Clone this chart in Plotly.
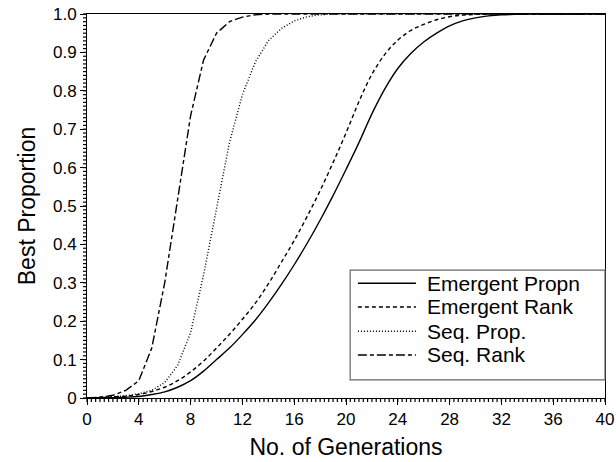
import plotly.graph_objects as go

# Generations 0..40
generations = list(range(0, 41))

emergent_propn = [0, 0.0005, 0.001, 0.002, 0.004, 0.009, 0.016, 0.028, 0.045, 0.07,
                  0.10, 0.13, 0.165, 0.203, 0.247, 0.295, 0.347, 0.403, 0.463, 0.527,
                  0.595, 0.665, 0.74, 0.805, 0.858, 0.897, 0.927, 0.95, 0.969, 0.982,
                  0.99, 0.995, 0.998, 0.999, 1, 1, 1, 1, 1, 1, 1]
emergent_rank = [0, 0.001, 0.003, 0.005, 0.009, 0.017, 0.028, 0.045, 0.068, 0.096,
                 0.13, 0.166, 0.205, 0.247, 0.297, 0.353, 0.41, 0.473, 0.54, 0.613,
                 0.69, 0.772, 0.843, 0.895, 0.932, 0.957, 0.973, 0.985, 0.993, 0.997,
                 0.999, 1, 1, 1, 1, 1, 1, 1, 1, 1, 1]
seq_prop = [0, 0.001, 0.003, 0.006, 0.011, 0.02, 0.04, 0.085, 0.17, 0.32,
            0.49, 0.665, 0.79, 0.875, 0.93, 0.962, 0.982, 0.993, 0.998, 1,
            1, 1, 1, 1, 1, 1, 1, 1, 1, 1, 1, 1, 1, 1, 1, 1, 1, 1, 1, 1, 1]
seq_rank = [0, 0.002, 0.007, 0.02, 0.045, 0.13, 0.30, 0.52, 0.735, 0.88,
            0.95, 0.98, 0.992, 0.998, 1, 1, 1, 1, 1, 1, 1, 1, 1, 1, 1, 1,
            1, 1, 1, 1, 1, 1, 1, 1, 1, 1, 1, 1, 1, 1, 1]

series_names = ["Emergent Propn", "Emergent Rank", "Seq. Prop.", "Seq. Rank"]

x_range = [0, 40]
y_range = [0, 1.0]
x_tick_vals = [0, 4, 8, 12, 16, 20, 24, 28, 32, 36, 40]
y_tick_vals = [0, 0.1, 0.2, 0.3, 0.4, 0.5, 0.6, 0.7, 0.8, 0.9, 1.0]
y_tick_text = ["0", "0.1", "0.2", "0.3", "0.4", "0.5", "0.6", "0.7", "0.8", "0.9", "1.0"]
x_minor_step = 1 / 3
y_minor_step = 0.01

series = [
    (series_names[0], emergent_propn, "solid", "spline"),
    (series_names[1], emergent_rank, "4px,3px", "spline"),
    (series_names[2], seq_prop, "1px,2px", "linear"),
    (series_names[3], seq_rank, "9px,3px,4px,3px", "linear"),
]

fig = go.Figure()
for name, ys, dash, shape in series:
    fig.add_trace(go.Scatter(
        x=generations, y=ys, name=name, mode="lines",
        line=dict(color="black", width=1.4, dash=dash, shape=shape),
        showlegend=False,
    ))

font_family = "Liberation Sans, Arial, sans-serif"

shapes = []

# fine ruler ticks just outside the left and bottom axis lines
n_x = round((x_range[1] - x_range[0]) / x_minor_step)
for i in range(n_x + 1):
    fx = i / n_x
    shapes.append(dict(type="line", xref="paper", yref="paper",
                       x0=fx, x1=fx, ysizemode="pixel", yanchor=0, y0=0, y1=-4,
                       line=dict(color="black", width=1.2), layer="above"))
n_y = round((y_range[1] - y_range[0]) / y_minor_step)
for i in range(n_y + 1):
    fy = i / n_y
    shapes.append(dict(type="line", xref="paper", yref="paper",
                       y0=fy, y1=fy, xsizemode="pixel", xanchor=0, x0=0, x1=-4,
                       line=dict(color="black", width=1.2), layer="above"))

# Boxed key in the lower right of the plotting area
key_left, key_right, key_bottom, key_top = 0.508, 1.0, 0.047, 0.333
row_y = [0.299, 0.237, 0.174, 0.112]
sample_x0, sample_x1, text_x = 0.523, 0.635, 0.652

shapes.append(dict(type="rect", xref="paper", yref="paper",
                   x0=key_left, x1=key_right, y0=key_bottom, y1=key_top,
                   line=dict(color="#666666", width=1.2), fillcolor="white", layer="above"))
annotations = []
for (name, _, dash, _), ry in zip(series, row_y):
    shapes.append(dict(type="line", xref="paper", yref="paper",
                       x0=sample_x0, x1=sample_x1, y0=ry, y1=ry,
                       line=dict(color="black", width=1.4, dash=dash), layer="above"))
    annotations.append(dict(xref="paper", yref="paper", x=text_x, y=ry,
                            xanchor="left", yanchor="middle", showarrow=False,
                            text=name, font=dict(size=21, family=font_family, color="black")))

axis_common = dict(showgrid=False, zeroline=False, automargin=False)

fig.update_layout(
    width=616, height=462,
    margin=dict(l=87, r=11, t=14, b=64),
    paper_bgcolor="white", plot_bgcolor="white",
    font=dict(family=font_family, color="black", size=17),
    showlegend=False,
    shapes=shapes,
    annotations=annotations,
    xaxis=dict(
        range=x_range, tickmode="array", tickvals=x_tick_vals,
        ticks="outside", ticklen=6, tickwidth=1, tickcolor="black",
        tickfont=dict(size=17),
        showline=True, linecolor="black", linewidth=1, mirror=True,
        title=dict(text="No. of Generations", font=dict(size=23), standoff=10),
        **axis_common,
    ),
    yaxis=dict(
        range=y_range, tickmode="array", tickvals=y_tick_vals, ticktext=y_tick_text,
        ticks="outside", ticklen=6, tickwidth=1, tickcolor="black",
        tickfont=dict(size=17),
        showline=True, linecolor="black", linewidth=1, mirror=True,
        title=dict(text="Best Proportion", font=dict(size=23), standoff=10),
        **axis_common,
    ),
)

fig.write_html("out.html")
